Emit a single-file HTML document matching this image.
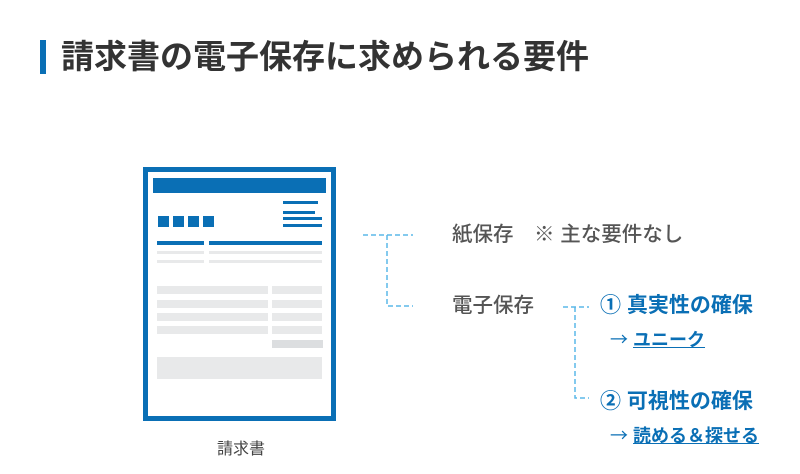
<!DOCTYPE html>
<html><head><meta charset="utf-8"><style>
body{margin:0;width:800px;height:474px;background:#fff;position:relative;overflow:hidden;font-family:"Liberation Sans","Noto Sans CJK JP",sans-serif}
.a{position:absolute}
.b{background:#0a6fb5;position:absolute}
.g{background:#e8e9ea;position:absolute}
.t{position:absolute;white-space:nowrap;line-height:1}
.ar{font-family:"Noto Sans CJK JP",sans-serif;font-weight:normal}
</style></head><body>
<div class="b" style="left:40px;top:40px;width:6px;height:34px"></div>
<div class="t" style="left:61px;top:40px;font-size:33px;font-weight:bold;color:#333">請求書の電子保存に求められる要件</div>

<div class="a" style="left:143px;top:167px;width:183px;height:244px;border:5px solid #0a6fb5"></div>
<div class="b" style="left:153px;top:178px;width:173px;height:15px"></div>
<div class="b" style="left:283px;top:201px;width:35px;height:3px"></div>
<div class="b" style="left:283px;top:211px;width:32px;height:3px"></div>
<div class="b" style="left:283px;top:217px;width:39px;height:3px"></div>
<div class="b" style="left:283px;top:224px;width:39px;height:3px"></div>
<div class="b" style="left:158px;top:216px;width:11px;height:11px"></div>
<div class="b" style="left:173px;top:216px;width:11px;height:11px"></div>
<div class="b" style="left:188px;top:216px;width:11px;height:11px"></div>
<div class="b" style="left:203px;top:216px;width:11px;height:11px"></div>
<div class="b" style="left:157px;top:241px;width:47px;height:4px"></div>
<div class="b" style="left:209px;top:241px;width:113px;height:4px"></div>
<div class="g" style="left:157px;top:251px;width:47px;height:3px"></div>
<div class="g" style="left:209px;top:251px;width:113px;height:3px"></div>
<div class="g" style="left:157px;top:260px;width:47px;height:3px"></div>
<div class="g" style="left:209px;top:260px;width:113px;height:3px"></div>
<div class="g" style="left:157px;top:286px;width:111px;height:8px"></div>
<div class="g" style="left:272px;top:286px;width:50px;height:8px"></div>
<div class="g" style="left:157px;top:300px;width:111px;height:8px"></div>
<div class="g" style="left:272px;top:300px;width:50px;height:8px"></div>
<div class="g" style="left:157px;top:313px;width:111px;height:8px"></div>
<div class="g" style="left:272px;top:313px;width:50px;height:8px"></div>
<div class="g" style="left:157px;top:326px;width:111px;height:8px"></div>
<div class="g" style="left:272px;top:326px;width:50px;height:8px"></div>
<div class="a" style="left:272px;top:340px;width:51px;height:8px;background:#dcdee0"></div>
<div class="g" style="left:157px;top:357px;width:165px;height:22px"></div>
<div class="t" style="left:217px;top:442px;font-size:16px;color:#444">請求書</div>

<svg class="a" style="left:0;top:0" width="800" height="474">
<g stroke="#5bb8e8" stroke-width="1.5" stroke-dasharray="5,3" fill="none">
<path d="M363 235H413M387 235V306H413"/>
<path d="M563 307H589M575 307V398H589"/>
</g></svg>

<div class="t" style="left:452px;top:225px;font-size:20.5px;font-weight:500;color:#555">紙保存　※ 主な要件なし</div>
<div class="t" style="left:452px;top:296px;font-size:20.5px;font-weight:500;color:#555">電子保存</div>
<div class="t" style="left:600px;top:295px;font-size:21px;font-weight:bold;color:#0a6fb5">① 真実性の確保</div>
<div class="t" style="left:610px;top:330px;font-size:18px;font-weight:bold;color:#0a6fb5"><span class="ar">→</span> <span style="text-decoration:underline">ユニーク</span></div>
<div class="t" style="left:600px;top:391px;font-size:21px;font-weight:bold;color:#0a6fb5">② 可視性の確保</div>
<div class="t" style="left:610px;top:426px;font-size:18px;font-weight:bold;color:#0a6fb5"><span class="ar">→</span> <span style="text-decoration:underline">読める＆探せる</span></div>
</body></html>
